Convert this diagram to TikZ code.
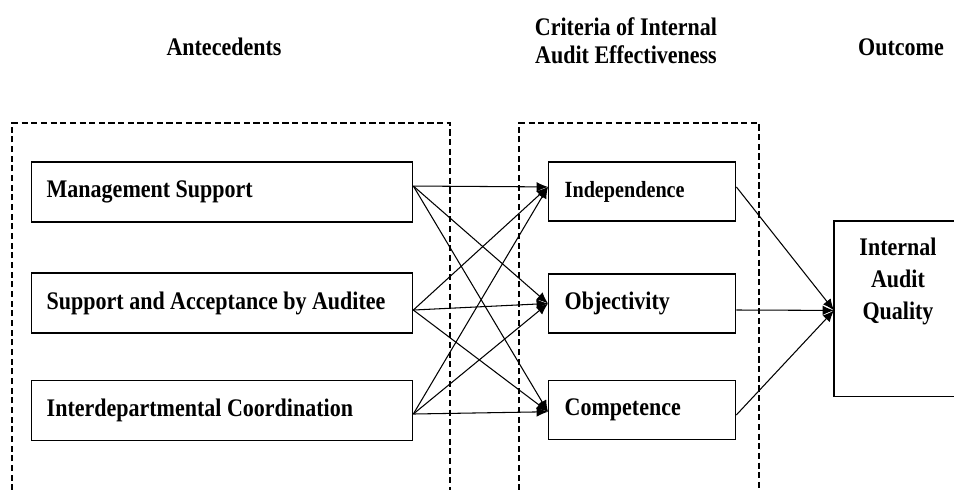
\documentclass[tikz,border=0pt]{standalone}
\usepackage{fontspec}
\setmainfont{Liberation Serif}[FakeStretch=0.87]
\usepackage{tikz}
\usetikzlibrary{arrows.meta,positioning}

\newcommand{\diagfont}{\bfseries\fontsize{14.4}{16}\selectfont}

\begin{document}
\begin{tikzpicture}[x=0.02cm, y=-0.02cm,
  antebox/.style={draw, line width=0.8pt, text width=7.02cm, minimum height=1.2cm, inner xsep=0.3cm, align=flush left, font=\diagfont},
  critbox/.style={draw, line width=0.8pt, text width=3.1cm, minimum height=1.18cm, inner xsep=0.32cm, align=flush left, font=\diagfont},
  headtext/.style={align=center, font=\diagfont},
  groupline/.style={line width=0.6pt, dash pattern=on 3.5pt off 2pt},
  conn/.style={line width=0.6pt, -{Latex[length=6.5pt,width=5.5pt]}}]

\useasboundingbox (0,0) rectangle (954,490);

% Column headings
\node[headtext] (hante) at (224,47) {Antecedents};
\node[headtext] (hcrit) at (626,41) {Criteria of Internal\\Audit Effectiveness};
\node[headtext] (hout) at (901,47) {Outcome};

% Dashed groups (open at the bottom)
\draw[groupline] (12,500) |- (450,123) -- (450,500);
\draw[groupline] (519,500) |- (759,123) -- (759,500);

% Antecedents
\node[antebox, anchor=west] (ms) at (31,192) {Management Support};
\node[antebox, anchor=west] (sa) at (31,303) {Support and Acceptance by Auditee};
\node[antebox, anchor=west] (ic) at (31,410.5) {Interdepartmental Coordination};

% Criteria
\node[critbox, anchor=west, font=\bfseries\fontsize{13.2}{15}\selectfont] (ind) at (548,191.5) {Independence};
\node[critbox, anchor=west] (obj) at (548,303.5) {Objectivity};
\node[critbox, anchor=west] (comp) at (548,410) {Competence};

% Outcome (box runs off the right edge)
\node[anchor=north west, minimum width=3cm, minimum height=3.5cm] (iaq) at (834,221) {};
\draw[line width=0.8pt] (iaq.north east) -| (iaq.south west) -- (iaq.south east);
\node[headtext, font=\bfseries\fontsize{14.4}{18.2}\selectfont, below=0.22cm of iaq.north west, xshift=1.28cm] (iaqtext) {Internal\\Audit\\Quality};

% Antecedents -> criteria
\draw[conn] ([yshift=3.4pt]ms.east) -- ([yshift=2.6pt]ind.west);
\draw[conn] ([yshift=3.4pt]ms.east) -- (obj.west);
\draw[conn] ([yshift=3.4pt]ms.east) -- ([yshift=-1pt]comp.west);
\draw[conn] ([yshift=-4pt]sa.east) -- ([yshift=2.6pt]ind.west);
\draw[conn] ([yshift=-4pt]sa.east) -- (obj.west);
\draw[conn] ([yshift=-4pt]sa.east) -- ([yshift=-1pt]comp.west);
\draw[conn] ([yshift=-2pt]ic.east) -- ([yshift=2.6pt]ind.west);
\draw[conn] ([yshift=-2pt]ic.east) -- (obj.west);
\draw[conn] ([yshift=-2pt]ic.east) -- ([yshift=-1pt]comp.west);

% Criteria -> outcome
\draw[conn] ([yshift=2.6pt]ind.east) -- ([yshift=-0.9pt]iaq.west);
\draw[conn] ([yshift=-3.7pt]obj.east) -- ([yshift=-0.9pt]iaq.west);
\draw[conn] ([yshift=-2.8pt]comp.east) -- ([yshift=-0.9pt]iaq.west);

\end{tikzpicture}
\end{document}
